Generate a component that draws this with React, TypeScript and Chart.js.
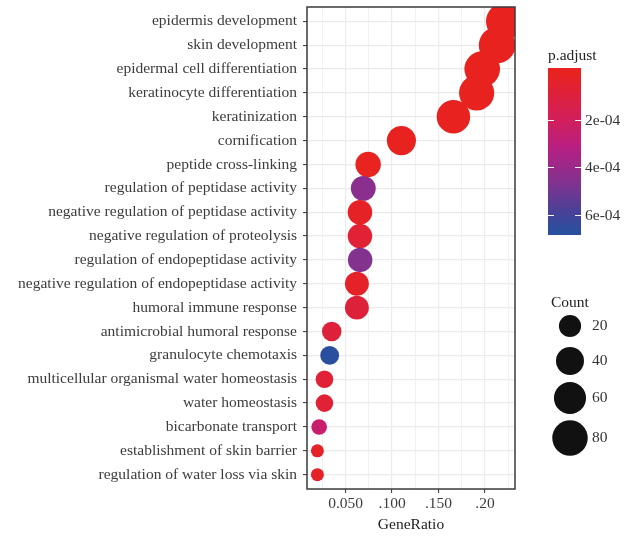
import { useEffect, useRef } from "react";
import { Chart, registerables } from "chart.js";
Chart.register(...registerables);

const categories = [
  "epidermis development",
  "skin development",
  "epidermal cell differentiation",
  "keratinocyte differentiation",
  "keratinization",
  "cornification",
  "peptide cross-linking",
  "regulation of peptidase activity",
  "negative regulation of peptidase activity",
  "negative regulation of proteolysis",
  "regulation of endopeptidase activity",
  "negative regulation of endopeptidase activity",
  "humoral immune response",
  "antimicrobial humoral response",
  "granulocyte chemotaxis",
  "multicellular organismal water homeostasis",
  "water homeostasis",
  "bicarbonate transport",
  "establishment of skin barrier",
  "regulation of water loss via skin",
];
const geneRatio = [
  0.221, 0.213, 0.197, 0.191, 0.166, 0.11, 0.0742, 0.069, 0.0654, 0.0654,
  0.0656, 0.0621, 0.0621, 0.035, 0.0328, 0.0272, 0.0272, 0.0215, 0.0196, 0.0196,
];
const counts = [90, 87, 81, 78, 68, 45, 30, 28, 27, 27, 27, 25, 25, 14, 13, 11, 11, 9, 8, 8];
const pAdjust = [
  1e-12, 1e-11, 1e-10, 1e-10, 1e-9, 1e-7, 2e-6, 4.4e-4, 2.4e-5, 6.8e-5,
  4.6e-4, 2.9e-5, 8.7e-5, 8.7e-5, 6.67e-4, 7.7e-5, 7.7e-5, 2.5e-4, 2.9e-5, 2.9e-5,
];
const xTickValues = [0.05, 0.1, 0.15, 0.2];
const xTickLabels = ["0.050", ".100", ".150", ".20"];
const xMinorValues = [0.025, 0.075, 0.125, 0.175, 0.225];
const colorbarTicks = [2e-4, 4e-4, 6e-4];
const colorbarLabels = ["2e-04", "4e-04", "6e-04"];
const sizeBreaks = [20, 40, 60, 80];
const sizeLabels = ["20", "40", "60", "80"];

const colorStops: [number, string][] = [
  [0, "#E8231F"],
  [0.3, "#D21F5C"],
  [0.48, "#B71F83"],
  [0.7, "#80338F"],
  [0.87, "#4C4097"],
  [1, "#2B4F9F"],
];

function hexToRgb(h: string) {
  const n = parseInt(h.slice(1), 16);
  return [(n >> 16) & 255, (n >> 8) & 255, n & 255];
}

export default function App() {
  const ref = useRef<HTMLCanvasElement>(null);
  useEffect(() => {
    document.body.style.margin = "0";
    const canvas = ref.current!;
    const FONT = "'Liberation Serif', 'Times New Roman', serif";
    const FS = 15.5;
    const cMin = Math.min(...counts);
    const cMax = Math.max(...counts);
    const pMin = Math.min(...pAdjust);
    const pMax = Math.max(...pAdjust);
    const radius = (c: number) => 6.5 + 12 * Math.sqrt((c - cMin) / (cMax - cMin));
    const colorAt = (p: number) => {
      const t = Math.max(0, Math.min(1, (p - pMin) / (pMax - pMin)));
      for (let i = 1; i < colorStops.length; i++) {
        const [t1, c1] = colorStops[i];
        const [t0, c0] = colorStops[i - 1];
        if (t <= t1) {
          const f = (t - t0) / (t1 - t0);
          const a = hexToRgb(c0);
          const b = hexToRgb(c1);
          const r = a.map((v, k) => Math.round(v + (b[k] - v) * f));
          return `rgb(${r[0]},${r[1]},${r[2]})`;
        }
      }
      return colorStops[colorStops.length - 1][1];
    };
    const isMajor = (v: number) => xTickValues.some((t) => Math.abs(t - v) < 1e-9);

    const panelAndLegends = {
      id: "panelAndLegends",
      afterDraw(chart: any) {
        const { ctx, chartArea: a } = chart;
        ctx.save();
        ctx.strokeStyle = "#3a3a3a";
        ctx.lineWidth = 1.5;
        ctx.strokeRect(a.left, a.top, a.right - a.left, a.bottom - a.top);

        // colour bar legend (limits sit half a bin in from each end, as in ggplot)
        ctx.font = `${FS}px ${FONT}`;
        ctx.fillStyle = "#222";
        ctx.textBaseline = "middle";
        ctx.textAlign = "left";
        ctx.fillText("p.adjust", 548, 56);
        const bx = 548, bw = 33, bt = 68, bb = 235;
        const len = bb - bt;
        const edge = 0.5 / 20;
        const grad = ctx.createLinearGradient(0, bt, 0, bb);
        grad.addColorStop(0, colorStops[0][1]);
        colorStops.forEach(([t, c]) => grad.addColorStop(edge + t * (1 - 2 * edge), c));
        grad.addColorStop(1, colorStops[colorStops.length - 1][1]);
        ctx.fillStyle = grad;
        ctx.fillRect(bx, bt, bw, len);
        ctx.strokeStyle = "#ffffff";
        ctx.lineWidth = 1;
        colorbarTicks.forEach((v, i) => {
          const t = (v - pMin) / (pMax - pMin);
          const y = Math.round(bt + (edge + t * (1 - 2 * edge)) * len) + 0.5;
          ctx.beginPath();
          ctx.moveTo(bx, y);
          ctx.lineTo(bx + 6, y);
          ctx.moveTo(bx + bw - 6, y);
          ctx.lineTo(bx + bw, y);
          ctx.stroke();
          ctx.fillStyle = "#333";
          ctx.fillText(colorbarLabels[i], 585, y);
        });

        // size legend
        ctx.fillStyle = "#222";
        ctx.fillText("Count", 551, 303);
        const ys = [326, 361, 398, 438];
        sizeBreaks.forEach((c, i) => {
          ctx.fillStyle = "#111";
          ctx.beginPath();
          ctx.arc(570, ys[i], radius(c), 0, Math.PI * 2);
          ctx.fill();
          ctx.fillStyle = "#333";
          ctx.fillText(sizeLabels[i], 592, ys[i]);
        });
        ctx.restore();
      },
    };

    const chart = new Chart(canvas, {
      type: "scatter",
      data: {
        datasets: [
          {
            data: geneRatio.map((g, i) => ({ x: g, y: i })),
            pointRadius: counts.map(radius),
            pointHoverRadius: counts.map(radius),
            pointBackgroundColor: pAdjust.map(colorAt),
            pointBorderWidth: 0,
            pointBorderColor: "rgba(0,0,0,0)",
          },
        ],
      },
      options: {
        responsive: false,
        animation: false,
        events: [],
        layout: { autoPadding: false, padding: { top: 7, right: 109, left: 0, bottom: 0 } },
        plugins: { legend: { display: false }, tooltip: { enabled: false } },
        scales: {
          x: {
            type: "linear",
            min: 0.0084,
            max: 0.2323,
            afterBuildTicks: (s: any) => {
              s.ticks = [...xMinorValues, ...xTickValues].sort((p, q) => p - q).map((v) => ({ value: v }));
            },
            ticks: {
              autoSkip: false,
              maxRotation: 0,
              padding: 2,
              color: "#3c3c3c",
              font: { family: FONT, size: FS },
              callback: (v: any) => {
                const i = xTickValues.findIndex((t) => Math.abs(t - v) < 1e-9);
                return i >= 0 ? xTickLabels[i] : "";
              },
            },
            grid: {
              color: "#EBEBEB",
              lineWidth: (c: any) => (c.tick && isMajor(c.tick.value) ? 1.2 : 0.7),
              tickColor: (c: any) => (c.tick && isMajor(c.tick.value) ? "#333" : "rgba(0,0,0,0)"),
              tickLength: 4,
              tickWidth: 1,
              drawTicks: true,
            },
            border: { display: false },
            title: {
              display: true,
              text: "GeneRatio",
              color: "#222",
              font: { family: FONT, size: FS },
              padding: { top: 0, bottom: 3 },
            },
            afterFit: (s: any) => {
              s.height = 48;
              s.paddingLeft = 0;
              s.paddingRight = 0;
            },
          },
          y: {
            type: "linear",
            reverse: true,
            min: -0.6,
            max: categories.length - 0.4,
            afterBuildTicks: (s: any) => {
              s.ticks = categories.map((_, i) => ({ value: i }));
            },
            ticks: {
              autoSkip: false,
              padding: 6,
              color: "#3c3c3c",
              font: { family: FONT, size: FS },
              callback: (v: any) => categories[Math.round(v)] ?? "",
            },
            grid: {
              color: "#EBEBEB",
              lineWidth: 1.2,
              tickColor: "#333",
              tickLength: 4,
              tickWidth: 1,
              drawTicks: true,
            },
            border: { display: false },
            afterFit: (s: any) => {
              s.width = 307;
              s.paddingTop = 0;
              s.paddingBottom = 0;
            },
          },
        },
      } as any,
      plugins: [panelAndLegends],
    });
    return () => chart.destroy();
  }, []);
  return (
    <div style={{ width: 624, height: 537, background: "#fff" }}>
      <canvas ref={ref} width={624} height={537} style={{ display: "block" }} />
    </div>
  );
}
